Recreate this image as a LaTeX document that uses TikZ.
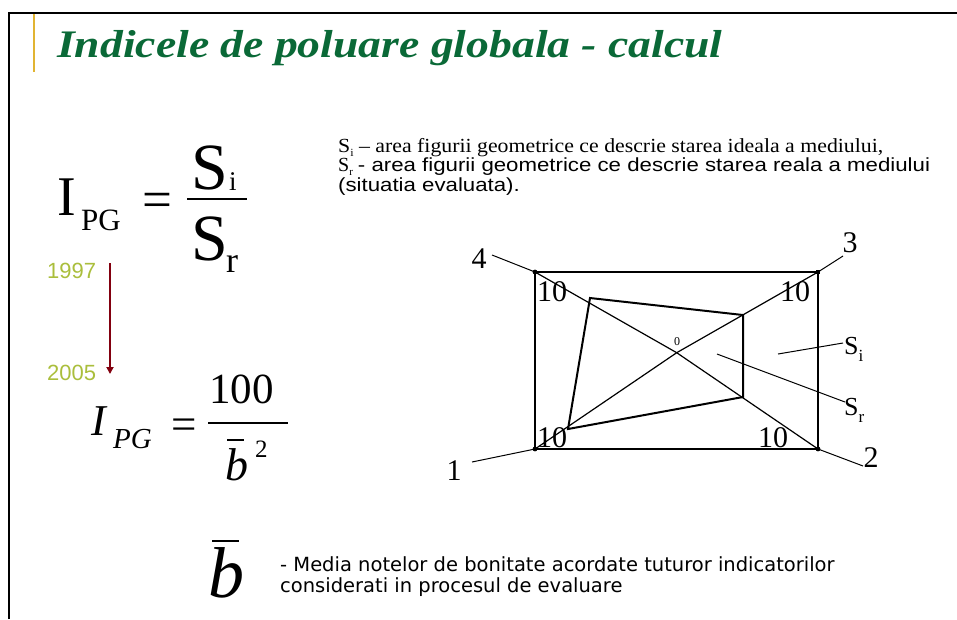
\documentclass[tikz,border=0pt]{standalone}
\usepackage{fontspec}
\usepackage{graphicx}
\setmainfont{Liberation Serif}
\newfontfamily\arialf{Liberation Sans}
\newfontfamily\tahomaf{DejaVu Sans}
\usetikzlibrary{arrows.meta,calc}
\definecolor{titlegreen}{RGB}{10,105,55}
\definecolor{bargold}{RGB}{225,180,50}
\definecolor{yeargreen}{RGB}{170,190,60}
\definecolor{arrowred}{RGB}{130,0,15}
\newcommand\myfs[1]{\fontsize{#1}{#1}\selectfont}
\begin{document}
\begin{tikzpicture}[x=1pt,y=-1pt,
  txt/.style={inner sep=0pt, anchor=base west},
  ctxt/.style={inner sep=0pt, anchor=center},
  thickline/.style={line width=2pt},
  axisline/.style={line width=1.2pt},
  leader/.style={line width=1pt},
  cornerdot/.style={fill=black}]
\useasboundingbox (0,0) rectangle (957,619);
% frame
\draw[line width=2pt] (9,619) -- (9,12.5) -- (957,12.5);
\draw[bargold, line width=1.6pt] (34,14) -- (34,72);
% title
\node[txt, text=titlegreen, font=\myfs{39}\bfseries\itshape] (title) at (57,57) {\scalebox{1.17}[1]{Indicele de poluare globala - calcul}};
% formula 1
\node[txt,font=\myfs{56}] (I1) at (57,215) {I};
\node[txt,font=\myfs{31}] (PG1) at (81,230) {PG};
\node[txt,font=\myfs{53}] (eq1) at (142,217) {=};
\draw[line width=2.5pt] (187,199) -- (247,199);
\node[txt,font=\myfs{66}] (Si) at (191,189) {S};
\node[txt,font=\myfs{27}] (si) at (229,190) {i};
\node[txt,font=\myfs{66}] (Sr) at (191,260) {S};
\node[txt,font=\myfs{36}] (sr) at (226,272) {r};
% years and arrow
\node[txt,font=\arialf\myfs{22},text=yeargreen] (y1997) at (47,278) {1997};
\node[txt,font=\arialf\myfs{22},text=yeargreen] (y2005) at (47,380) {2005};
\coordinate (a1) at (110,263);
\coordinate (a2) at (110,374);
\draw[arrowred, line width=2.6pt, -{Triangle[length=7pt,width=7pt]}] (a1) -- (a2);
% formula 2
\node[txt,font=\myfs{44}\itshape] (I2) at (91,435) {I};
\node[txt,font=\myfs{29}\itshape] (PG2) at (113,448) {PG};
\node[txt,font=\myfs{45}] (eq2) at (171,439) {=};
\node[txt,font=\myfs{43}] (n100) at (209,403) {100};
\draw[line width=2pt] (208,423) -- (288,423);
\draw[line width=1.8pt] (227,440) -- (244,440);
\node[txt,font=\myfs{46}\itshape] (b2) at (225,480) {b};
\node[txt,font=\myfs{25}] (two) at (255,457) {2};
% bottom b bar
\draw[line width=2pt] (212,541) -- (239,541);
\node[txt,font=\myfs{72}\itshape] (b3) at (208,597) {b};
\node[txt,font=\tahomaf\myfs{19.5}] (desc1) at (280,571) {- Media notelor de bonitate acordate tuturor indicatorilor};
\node[txt,font=\tahomaf\myfs{19.5}] (desc2) at (280,592) {considerati in procesul de evaluare};
% top text
\node[txt,font=\myfs{20}] (l1) at (338,152) {\scalebox{1.09}[1]{S\raisebox{-0.2em}{\myfs{11}i} – area figurii geometrice ce descrie starea ideala a mediului,}};
\node[txt,font=\myfs{20}] (l2) at (338,171) {S\raisebox{-0.2em}{\myfs{11}r} {\arialf\myfs{19}\scalebox{1.17}[1]{- area figurii geometrice ce descrie starea reala a mediului}}};
\node[txt,font=\arialf\myfs{19}] (l3) at (338,191) {\scalebox{1.17}[1]{(situatia evaluata).}};
% diagram
\coordinate (O) at (676.7,352.7);
\coordinate (TL) at (535,272);
\coordinate (TR) at (818,272);
\coordinate (BL) at (535,449);
\coordinate (BR) at (818,449);
\coordinate (q1) at (590,298);
\coordinate (q2) at (743,315);
\coordinate (q3) at (743,397);
\coordinate (q4) at (568,429);
\draw[thickline] (TL) rectangle (BR);
\draw[axisline] (O) -- (TL);
\draw[axisline] (O) -- (TR);
\draw[axisline] (O) -- (BL);
\draw[axisline] (O) -- (BR);
\draw[thickline, line join=miter] (q1) -- (q2) -- (q3) -- (q4) -- cycle;
\fill[cornerdot] (TL) circle (2.4pt);
\fill[cornerdot] (BL) circle (2.4pt);
\fill[cornerdot] (BR) circle (2.4pt);
\fill[cornerdot] ($(TR)+(-2.4,-2.4)$) rectangle ($(TR)+(2.4,2.4)$);
% corner labels
\node[ctxt,font=\myfs{30}] (n4) at (479,259) {4};
\node[ctxt,font=\myfs{30}] (n3) at (850,243) {3};
\node[ctxt,font=\myfs{30}] (n1) at (454,471) {1};
\node[ctxt,font=\myfs{30}] (n2) at (871,458) {2};
\coordinate (e4) at (492,255);
\coordinate (e3) at (843,256);
\coordinate (e1) at (472,462);
\coordinate (e2) at (863,466);
\draw[leader] (TL) -- (e4);
\draw[leader] (TR) -- (e3);
\draw[leader] (BL) -- (e1);
\draw[leader] (BR) -- (e2);
% ten labels
\node[ctxt,font=\myfs{30}] (t1) at (552,292) {10};
\node[ctxt,font=\myfs{30}] (t2) at (795,292) {10};
\node[ctxt,font=\myfs{30}] (t3) at (552,438) {10};
\node[ctxt,font=\myfs{30}] (t4) at (773,438) {10};
\node[ctxt,font=\myfs{12}] (zero) at (677,342) {0};
% S labels
\node[txt,font=\myfs{26}] (Slabi) at (844,354) {S\raisebox{-0.3em}{\myfs{17}i}};
\node[txt,font=\myfs{26}] (Slabr) at (844,415) {S\raisebox{-0.3em}{\myfs{17}r}};
\coordinate (si1) at (778,354);
\coordinate (si2) at (843,343);
\coordinate (sr1) at (717,354);
\coordinate (sr2) at (845,402);
\draw[leader] (si1) -- (si2);
\draw[leader] (sr1) -- (sr2);
\end{tikzpicture}
\end{document}
